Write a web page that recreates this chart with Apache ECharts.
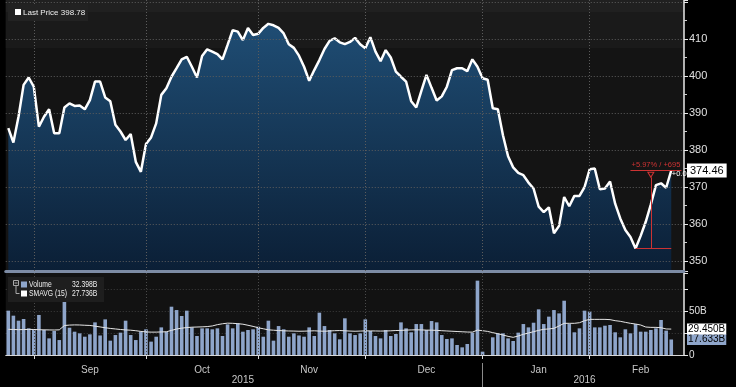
<!DOCTYPE html>
<html><head><meta charset="utf-8">
<script src="https://cdn.jsdelivr.net/npm/echarts@6/dist/echarts.min.js"></script>
<style>html,body{margin:0;padding:0;background:#000;}#c{width:736px;height:387px;}</style>
</head><body><div id="c"></div>
<script>
// Trading-day (weekday) categories
const dates = [
'2015-08-25','2015-08-26','2015-08-27','2015-08-28','2015-08-31',
'2015-09-01','2015-09-02','2015-09-03','2015-09-04','2015-09-07','2015-09-08','2015-09-09','2015-09-10','2015-09-11','2015-09-14','2015-09-15','2015-09-16','2015-09-17','2015-09-18','2015-09-21','2015-09-22','2015-09-23','2015-09-24','2015-09-25','2015-09-28','2015-09-29','2015-09-30',
'2015-10-01','2015-10-02','2015-10-05','2015-10-06','2015-10-07','2015-10-08','2015-10-09','2015-10-12','2015-10-13','2015-10-14','2015-10-15','2015-10-16','2015-10-19','2015-10-20','2015-10-21','2015-10-22','2015-10-23','2015-10-26','2015-10-27','2015-10-28','2015-10-29','2015-10-30',
'2015-11-02','2015-11-03','2015-11-04','2015-11-05','2015-11-06','2015-11-09','2015-11-10','2015-11-11','2015-11-12','2015-11-13','2015-11-16','2015-11-17','2015-11-18','2015-11-19','2015-11-20','2015-11-23','2015-11-24','2015-11-25','2015-11-26','2015-11-27','2015-11-30',
'2015-12-01','2015-12-02','2015-12-03','2015-12-04','2015-12-07','2015-12-08','2015-12-09','2015-12-10','2015-12-11','2015-12-14','2015-12-15','2015-12-16','2015-12-17','2015-12-18','2015-12-21','2015-12-22','2015-12-23','2015-12-24','2015-12-25','2015-12-28','2015-12-29','2015-12-30','2015-12-31',
'2016-01-01','2016-01-04','2016-01-05','2016-01-06','2016-01-07','2016-01-08','2016-01-11','2016-01-12','2016-01-13','2016-01-14','2016-01-15','2016-01-18','2016-01-19','2016-01-20','2016-01-21','2016-01-22','2016-01-25','2016-01-26','2016-01-27','2016-01-28','2016-01-29',
'2016-02-01','2016-02-02','2016-02-03','2016-02-04','2016-02-05','2016-02-08','2016-02-09','2016-02-10','2016-02-11','2016-02-12','2016-02-15','2016-02-16','2016-02-17','2016-02-18','2016-02-19','2016-02-22','2016-02-23','2016-02-24','2016-02-25'
];

const price = [
385.9,382.0,389.0,397.6,399.6,397.1,386.3,389.0,391.0,384.5,
384.5,391.5,392.6,391.9,392.0,391.0,393.5,398.5,398.5,394.2,
393.2,386.8,385.0,382.7,384.3,376.8,374.1,381.6,383.4,387.2,
394.9,396.7,399.8,402.1,404.5,405.2,402.5,399.6,405.4,407.2,
406.6,405.9,404.5,408.4,412.4,412.0,409.7,413.0,411.1,411.4,
413.0,414.1,413.7,413.0,411.5,408.6,407.6,405.5,402.5,398.7,
401.6,404.3,407.3,409.5,410.2,409.1,408.6,409.2,410.3,408.6,
407.5,410.5,406.6,404.0,407.0,405.0,401.2,399.8,398.5,393.2,
391.5,396.0,400.3,396.8,393.4,394.5,397.1,401.6,402.1,402.1,
401.3,404.5,402.5,399.4,399.0,391.3,391.0,384.0,378.3,375.3,
373.8,373.2,371.2,369.6,364.7,363.2,364.5,357.5,359.5,367.3,
364.8,367.6,367.6,370.0,374.8,375.0,369.4,369.6,371.5,365.5,
361.5,358.4,356.5,353.37,356.8,360.6,365.3,370.5,371.0,369.8,
374.46
];

const volume = [
50.4,44.7,39.0,40.9,30.3,29.2,45.5,28.4,18.9,27.3,
17.0,64.0,31.0,26.5,24.6,20.8,23.5,37.1,22.2,40.5,
16.3,22.7,25.4,39.0,22.7,17.0,26.5,29.2,15.2,20.8,
31.4,26.5,54.9,51.1,44.3,50.4,31.4,21.6,30.3,30.3,
29.2,30.3,21.6,34.8,30.3,36.0,26.5,28.4,29.2,32.2,
20.8,39.0,16.3,32.9,29.2,20.8,24.6,22.2,20.8,31.4,
21.6,48.1,32.9,28.4,24.6,17.8,41.7,24.6,22.7,24.6,
40.5,
27.3,21.6,18.9,28.4,21.6,23.9,37.1,30.3,25.8,35.2,
35.2,28.4,38.6,37.1,22.7,18.2,18.9,11.4,8.7,12.5,
25.4,84.5,3.8,
null,
20.1,24.6,24.6,18.9,15.9,25.4,35.2,31.4,36.7,51.9,
35.2,43.6,51.1,47.3,61.7,35.2,25.8,30.3,50.4,49.2,
31.4,31.4,33.3,34.1,25.8,20.1,29.2,24.6,35.2,26.5,
26.5,28.4,30.3,39.8,27.7,17.633
];

const smavg = [
29.2,29.0,28.8,28.9,29.1,29.0,28.7,28.6,28.5,28.4,28.6,
33.5,
34.0,34.2,34.1,33.8,33.6,
32.8,31.9,31.0,30.2,29.6,29.0,
28.5,28.2,27.6,26.8,26.2,26.0,
26.0,26.2,26.4,
28.0,
29.5,30.5,31.2,31.6,31.8,32.0,
32.3,33.0,34.5,35.5,
36.2,36.0,35.6,35.0,
33.8,32.5,31.0,29.8,
28.6,28.2,27.8,27.5,27.3,27.2,27.0,27.1,27.3,27.5,27.2,27.0,27.3,27.6,27.8,27.5,27.2,27.0,27.2,27.4,
27.4,27.3,27.2,27.3,27.5,27.8,28.0,28.3,28.5,28.6,28.5,28.3,28.2,
28.0,27.6,27.3,27.0,26.7,26.4,26.1,26.0,
28.3,27.6,26.8,
25.4,24.2,22.7,21.2,20.1,21.6,23.5,25.0,26.5,28.0,29.2,29.6,30.3,33.0,36.0,36.0,36.0,36.7,
39.0,40.5,40.5,40.5,40.5,40.2,39.0,38.3,37.1,36.0,35.2,34.1,31.8,31.4,31.4,31.0,29.6,29.45
];

const monthNames = ['Jan','Feb','Mar','Apr','May','Jun','Jul','Aug','Sep','Oct','Nov','Dec'];
const monthStarts = ['2015-09-01','2015-10-01','2015-11-02','2015-12-01','2016-01-01','2016-02-01'];
const monthLabelAt = ['2015-09-16','2015-10-16','2015-11-16','2015-12-17','2016-01-18','2016-02-15'];
const yearLabelAt = ['2015-10-28','2016-01-29'];
const yearSeparator = '2016-01-01';
const priceTicks = [350,360,370,380,390,400,410];

const lastPrice = 374.46, lowPrice = 353.37;
const lastVol = 17.633, lastAvg = 29.45;

const FONT = '"Liberation Sans", Arial, sans-serif';
const idx = d => dates.indexOf(d);
const startIdx = monthStarts.map(idx);
const labelIdx = monthLabelAt.map(idx);
const yearIdx = yearLabelAt.map(idx);
const sepIdx = idx(yearSeparator);
const gridDots = {type:[1,2], color:'#5c5c5c', width:1};
const RED = '#cc3333';
const hidden = {color:'rgba(0,0,0,0)'};
const noLine = {color:'rgba(0,0,0,0)', width:0, type:'solid'};

const chart = echarts.init(document.getElementById('c'), null, {renderer:'canvas', width:736, height:387});

function legendText(text, x, y) {
  return {type:'text', z:21, x:x, y:y, scaleX:0.8, scaleY:1,
          style:{text:text, fill:'#eeeeee', fontSize:8.5, fontFamily:FONT, verticalAlign:'middle', textVerticalAlign:'middle'}};
}

chart.setOption({
  backgroundColor:'#000',
  animation:false,
  textStyle:{fontFamily:FONT},
  grid:[
    {left:5.75, right:52, top:0, height:271, show:true, backgroundColor:'#141414', borderWidth:0},
    {left:5.75, right:52, top:273, height:82, show:true, backgroundColor:'#121212', borderWidth:0}
  ],
  xAxis:[
    {gridIndex:0, type:'category', data:dates, boundaryGap:true, position:'bottom', z:4,
     axisLine:{show:true, lineStyle:{color:'#7d8ca5', width:3}}, axisTick:{show:false}, axisLabel:{show:false}, splitLine:{show:false}},
    {gridIndex:1, type:'category', data:dates, boundaryGap:true, position:'bottom', offset:8,
     axisLine:{show:true, lineStyle:{color:'#d8d8d8', width:1}},
     axisTick:{show:true, alignWithLabel:true, interval:(i)=>startIdx.includes(i), length:4, lineStyle:{color:'#d8d8d8'}},
     axisLabel:{interval:(i)=>labelIdx.includes(i), formatter:v=>monthNames[+v.slice(5,7)-1], color:'#c8c8c8', fontSize:10, margin:2, fontFamily:FONT},
     splitLine:{show:false}},
    {gridIndex:1, type:'category', data:dates, boundaryGap:true, position:'bottom', offset:8,
     axisLine:{show:false},
     axisTick:{show:true, alignWithLabel:true, interval:(i)=>i===sepIdx, length:24, lineStyle:{color:'#8a8a8a'}},
     axisLabel:{interval:(i)=>yearIdx.includes(i), formatter:v=>v.slice(0,4), color:'#c8c8c8', fontSize:10, margin:12, fontFamily:FONT},
     splitLine:{show:false}}
  ],
  yAxis:[
    {gridIndex:0, type:'value', position:'right', min:347.3, max:420.54, splitNumber:7, minInterval:10, maxInterval:10, z:3,
     axisLine:{show:true, lineStyle:{color:'#e8e8e8', width:1.5}},
     axisTick:{show:true, length:4, lineStyle:{color:'#e8e8e8'}},
     minorTick:{show:true, splitNumber:2, length:3, lineStyle:{color:'#cfcfcf'}},
     axisLabel:{color:'#e0e0e0', fontSize:11, margin:5, showMinLabel:false, showMaxLabel:false, fontFamily:FONT,
       formatter:v=>priceTicks.includes(Math.round(v*100)/100)?String(v):''},
     splitLine:{show:true, showMinLine:false, showMaxLine:false, lineStyle:gridDots}},
    {gridIndex:1, type:'value', position:'right', min:0, max:93.2, interval:25,
     axisLine:{show:true, lineStyle:{color:'#e8e8e8', width:1.5}},
     axisTick:{show:true, length:4, lineStyle:{color:'#e8e8e8'}},
     axisLabel:{color:'#e0e0e0', fontSize:10, margin:5, fontFamily:FONT, formatter:v=>v===0?'0':(v===50?'50B':'')},
     splitLine:{show:true, showMinLine:false, showMaxLine:false, lineStyle:{type:[1,2], color:'#3c3c3c', width:1}}}
  ],
  series:[
    {type:'line', name:'Last Price', xAxisIndex:0, yAxisIndex:0, data:price, symbol:'none', z:2,
     lineStyle:{color:'#ffffff', width:2.5},
     areaStyle:{origin:'start', opacity:1, color:new echarts.graphic.LinearGradient(0,0,0,1,[{offset:0,color:'#1f4d74'},{offset:1,color:'#0b1f36'}])},
     markArea:{silent:true, data:[
       [{yAxis:417.3, itemStyle:{color:'#202020', opacity:1}},{yAxis:420.54}],
       [{yAxis:407.6, itemStyle:{color:'#1a1a1a', opacity:1}},{yAxis:417.3}]
     ]},
     markLine:{silent:true, symbol:['none','none'], label:{show:false}, data:[
       ...monthStarts.map(d=>({xAxis:d, lineStyle:gridDots})),
       [{coord:['2016-02-11', lastPrice], lineStyle:{color:RED, width:1, type:'solid'}},{coord:['2016-02-25', lastPrice]}],
       [{coord:['2016-02-12', lowPrice], lineStyle:{color:RED, width:1, type:'solid'}},{coord:['2016-02-23', lowPrice]}],
       [{coord:['2016-02-17', 372.6], lineStyle:{color:RED, width:1, type:'solid'}},{coord:['2016-02-17', lowPrice]}],
       {yAxis:lastPrice, lineStyle:noLine,
        label:{show:true, position:'end', distance:3, formatter:'374.46', backgroundColor:'#ffffff', color:'#000', fontSize:11, padding:[2,3,1,3], fontFamily:FONT}}
     ]},
     markPoint:{silent:true, data:[
       {coord:['2016-02-18', lastPrice], symbol:'rect', symbolSize:1, itemStyle:hidden,
        label:{show:true, position:'top', distance:1, formatter:'+5.97% / +695', color:RED, fontSize:7.5, fontFamily:FONT}},
       {coord:['2016-02-23', lastPrice], symbol:'rect', symbolSize:1, itemStyle:hidden,
        label:{show:true, position:'right', distance:0, offset:[0,3], formatter:'+0.0', color:'#ffffff', fontSize:7.5, fontFamily:FONT}},
       {coord:['2016-02-17', 373.3], symbol:'triangle', symbolRotate:180, symbolSize:[6,5],
        itemStyle:{color:'rgba(0,0,0,0)', borderColor:RED, borderWidth:1}, label:{show:false}}
     ]}
    },
    {type:'bar', name:'Volume', xAxisIndex:1, yAxisIndex:1, data:volume, barWidth:3.6, z:2,
     itemStyle:{color:'#8ea5ca'},
     markLine:{silent:true, symbol:['none','none'], label:{show:false}, data:[
       ...monthStarts.map(d=>({xAxis:d, lineStyle:{type:[1,2], color:'#4a4a4a', width:1}})),
       {yAxis:lastVol, lineStyle:noLine,
        label:{show:true, position:'end', distance:3, formatter:'17.633B', backgroundColor:'#8ea5ca', color:'#000', fontSize:10, padding:[1,1,0,1], fontFamily:FONT}}
     ]}
    },
    {type:'line', name:'SMAVG (15)', xAxisIndex:1, yAxisIndex:1, data:smavg, symbol:'none', z:3, connectNulls:true,
     lineStyle:{color:'#e6e6e6', width:1},
     markLine:{silent:true, symbol:['none','none'], data:[
       {yAxis:lastAvg, lineStyle:noLine,
        label:{show:true, position:'end', distance:3, formatter:'29.450B', backgroundColor:'#ffffff', color:'#000', fontSize:10, padding:[1,1,0,1], fontFamily:FONT}}
     ]}
    }
  ],
  graphic:[
    {type:'rect', z:20, shape:{x:8,y:4,width:80,height:17}, style:{fill:'#222222'}},
    {type:'rect', z:21, shape:{x:15,y:9,width:6,height:6}, style:{fill:'#ffffff'}},
    {type:'text', z:21, x:23, y:12.5, style:{text:'Last Price 398.78', fill:'#eeeeee', fontSize:8, fontFamily:FONT, verticalAlign:'middle', textVerticalAlign:'middle'}},
    {type:'rect', z:20, shape:{x:8,y:277,width:96,height:25}, style:{fill:'#1e1e1e'}},
    {type:'rect', z:21, shape:{x:13.5,y:280.5,width:5,height:5}, style:{fill:'none', stroke:'#aaaaaa', lineWidth:1}},
    {type:'line', z:21, shape:{x1:14.5,y1:283,x2:17.5,y2:283}, style:{stroke:'#aaaaaa', lineWidth:1}},
    {type:'polyline', z:21, shape:{points:[[16,286],[16,293.5],[19.5,293.5]]}, style:{stroke:'#aaaaaa', lineWidth:1, fill:'none'}},
    {type:'rect', z:21, shape:{x:21,y:281.5,width:6,height:6}, style:{fill:'#8ea5ca'}},
    legendText('Volume', 29, 284.5),
    legendText('32.398B', 72, 284.5),
    {type:'rect', z:21, shape:{x:21,y:290.5,width:6,height:6}, style:{fill:'#ffffff'}},
    legendText('SMAVG (15)', 29, 293.5),
    legendText('27.736B', 72, 293.5)
  ]
});
</script>
</body></html>
